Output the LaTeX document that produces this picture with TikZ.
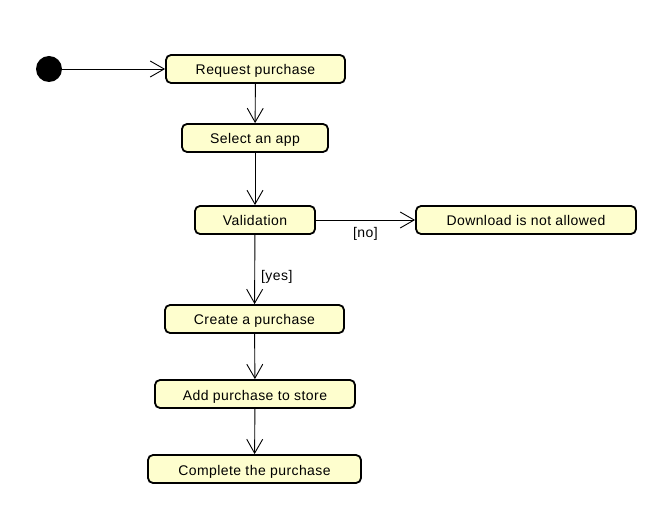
\documentclass[tikz,border=0pt]{standalone}
\usepackage{fontspec}
\setmainfont{Liberation Sans}[LetterSpace=3]
\usetikzlibrary{arrows.meta}
\definecolor{actfill}{HTML}{FEFECE}
\tikzset{
  act/.style={draw=black, line width=1.8pt, fill=actfill, rounded corners=5pt,
    minimum height=28pt, inner sep=0pt, text height=12pt, text depth=0pt, font=\fontsize{14}{16}\selectfont},
  flow/.style={draw=black, line width=0.9pt, -{Straight Barb[length=14pt,width=16pt,line width=0.9pt]}},
  guard/.style={font=\fontsize{14}{16}\selectfont, inner sep=0pt},
}
\begin{document}
\begin{tikzpicture}[x=1pt,y=-1pt]
\useasboundingbox (0,0) rectangle (661,510);
\node[circle, fill=black, minimum size=26pt, inner sep=0pt] (start) at (49,69) {};
\node[act, minimum width=179pt] (req) at (255.5,69) {Request purchase};
\node[act, minimum width=146pt] (sel) at (255,138) {Select an app};
\node[act, minimum width=120pt] (val) at (255,220) {Validation};
\node[act, minimum width=220pt] (dl) at (526,220) {Download is not allowed};
\node[act, minimum width=179pt] (cre) at (254.5,319) {Create a purchase};
\node[act, minimum width=200pt] (add) at (255,394) {Add purchase to store};
\node[act, minimum width=213pt] (com) at (254.5,469) {Complete the purchase};
\draw[flow] (start) -- (req);
\draw[flow] (req) -- (sel);
\draw[flow] (sel) -- (val);
\draw[flow] (val) -- node[guard, pos=0.5, below=7pt] {[no]} (dl);
\draw[flow] (val) -- node[guard, pos=0.6, right=6pt] {[yes]} (cre);
\draw[flow] (cre) -- (add);
\draw[flow] (add) -- (com);
\end{tikzpicture}
\end{document}
